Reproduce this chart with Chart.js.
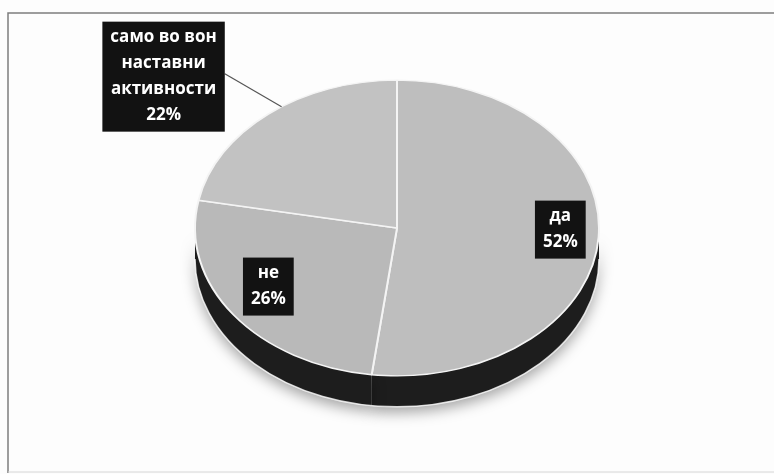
<!DOCTYPE html>
<html>
<head>
<meta charset="utf-8">
<script src="https://cdn.jsdelivr.net/npm/chart.js@4.4.0/dist/chart.umd.min.js"></script>
<style>
  html, body { margin: 0; padding: 0; background: #fff; }
  #wrap { width: 774px; height: 474px; }
</style>
</head>
<body>
<div id="wrap"><canvas id="surveyChart"></canvas></div>
<script>
const answers = ['да', 'не', 'само во вон наставни активности'];
const answerLines = [['да'], ['не'], ['само во вон', 'наставни', 'активности']];
const shares = [52, 26, 22];
const sliceColors = ['#bebebe', '#b9b9b9', '#c2c2c2'];

const TILT = 0.732;    // vertical squash of the pie top
const DEPTH = 31;      // thickness of the rim
const RIM_COLOR = '#1d1d1d';
const LABEL_FONT = 'bold 17px "Open Sans", sans-serif';
const LINE_H = 26;

// label box placement: r = radial factor, at = position along the slice,
// dx/dy = shift of the box centre from that point
const labelPlacement = [
  { r: 0.82, at: 0.5, dx: -2, dy: -6 },
  { r: 0.72, at: 0.5, dx: -11, dy: -4 },
  { r: 1.0, at: 0.56, dx: -118, dy: -30, leader: true }
];

const frame = {
  id: 'frame',
  beforeDraw(chart) {
    const ctx = chart.ctx;
    ctx.save();
    ctx.fillStyle = '#fdfdfd';
    ctx.fillRect(0, 0, chart.width, chart.height);
    ctx.strokeStyle = '#7d7d7d';
    ctx.lineWidth = 1.5;
    ctx.beginPath();
    ctx.moveTo(8, 473);
    ctx.lineTo(8, 13);
    ctx.lineTo(774, 13);
    ctx.stroke();
    ctx.strokeStyle = '#d6d6d6';
    ctx.lineWidth = 1;
    ctx.beginPath();
    ctx.moveTo(8, 472);
    ctx.lineTo(774, 472);
    ctx.stroke();
    ctx.restore();
  }
};

const pie3d = {
  id: 'pie3d',
  beforeDatasetsDraw(chart) {
    const ctx = chart.ctx;
    const meta = chart.getDatasetMeta(0);
    const { x, y, outerRadius } = meta.data[0].getProps(['x', 'y', 'outerRadius'], true);
    const ry = outerRadius * TILT;

    // front rim of every slice that faces the viewer
    ctx.save();
    ctx.shadowColor = 'rgba(0,0,0,0.35)';
    ctx.shadowBlur = 14;
    ctx.shadowOffsetY = 6;
    meta.data.forEach(arc => {
      const p = arc.getProps(['startAngle', 'endAngle'], true);
      const a0 = Math.max(p.startAngle, 0);
      const a1 = Math.min(p.endAngle, Math.PI);
      if (a1 <= a0) return;
      ctx.beginPath();
      ctx.ellipse(x, y + DEPTH, outerRadius, ry, 0, a0, a1);
      ctx.ellipse(x, y, outerRadius, ry, 0, a1, a0, true);
      ctx.closePath();
      ctx.fillStyle = RIM_COLOR;
      ctx.fill();
    });
    ctx.restore();

    // faint light edge under the rim
    ctx.save();
    ctx.strokeStyle = 'rgba(255,255,255,0.8)';
    ctx.lineWidth = 1.5;
    ctx.beginPath();
    ctx.ellipse(x, y + DEPTH, outerRadius, ry, 0, 0, Math.PI);
    ctx.stroke();
    ctx.restore();

    // squash the top face
    ctx.save();
    ctx.translate(x, y);
    ctx.scale(1, TILT);
    ctx.translate(-x, -y);
  },
  afterDatasetsDraw(chart) {
    const ctx = chart.ctx;
    ctx.restore();

    const meta = chart.getDatasetMeta(0);
    const values = chart.data.datasets[0].data;
    const total = values.reduce((a, b) => a + b, 0);

    meta.data.forEach((arc, i) => {
      const p = arc.getProps(['x', 'y', 'startAngle', 'endAngle', 'outerRadius'], true);
      const place = labelPlacement[i];
      const ang = p.startAngle + (p.endAngle - p.startAngle) * place.at;
      const ax = p.x + Math.cos(ang) * p.outerRadius * place.r;
      const ay = p.y + Math.sin(ang) * p.outerRadius * TILT * place.r;
      const lines = answerLines[i].concat([Math.round(values[i] / total * 100) + '%']);

      ctx.save();
      ctx.font = LABEL_FONT;
      const textW = Math.max(...lines.map(s => ctx.measureText(s).width));
      const w = textW + 16;
      const h = lines.length * LINE_H + 6;
      const cx = ax + place.dx;
      const cy = ay + place.dy;
      const left = cx - w / 2;
      const top = cy - h / 2;

      if (place.leader) {
        ctx.strokeStyle = '#555';
        ctx.lineWidth = 1.2;
        ctx.beginPath();
        ctx.moveTo(left + w, cy - 3);
        ctx.lineTo(ax, ay);
        ctx.stroke();
      }

      ctx.fillStyle = '#121212';
      ctx.fillRect(left, top, w, h);
      ctx.fillStyle = '#fff';
      ctx.textAlign = 'center';
      ctx.textBaseline = 'middle';
      lines.forEach((s, k) => {
        ctx.fillText(s, cx, top + 3 + LINE_H * (k + 0.5));
      });
      ctx.restore();
    });
  }
};

new Chart(document.getElementById('surveyChart'), {
  type: 'pie',
  data: {
    labels: answers,
    datasets: [{
      data: shares,
      backgroundColor: sliceColors,
      borderColor: '#f4f4f4',
      borderWidth: 2
    }]
  },
  options: {
    responsive: true,
    maintainAspectRatio: false,
    animation: false,
    layout: {
      padding: { left: 194, right: 174, top: 25, bottom: 43 }
    },
    plugins: {
      legend: { display: false },
      tooltip: { enabled: false }
    }
  },
  plugins: [frame, pie3d]
});
</script>
</body>
</html>
